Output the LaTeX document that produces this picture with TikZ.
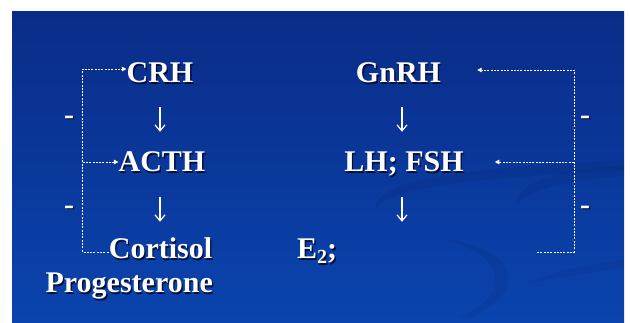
\documentclass[tikz,border=0pt]{standalone}
\usepackage{fontspec}
\setmainfont{Liberation Serif}
\usetikzlibrary{arrows.meta,calc}
\definecolor{bgtop}{RGB}{10,44,136}
\definecolor{bgbot}{RGB}{10,68,174}
\definecolor{shadecol}{RGB}{4,14,50}
\newcommand\dsh[1]{\makebox[0pt][l]{\kern1.3pt\raisebox{-1.3pt}{\textcolor{shadecol}{#1}}}#1}
\tikzset{
  txt/.style={inner sep=0pt, text height=20pt, text depth=0pt, text=white,
    font=\fontsize{30}{30}\selectfont\bfseries},
  minus/.style={inner sep=0pt, text=white, anchor=base,
    font=\fontsize{30}{30}\selectfont\bfseries},
  down/.style={white, line width=1.2pt, -{Straight Barb[length=6pt,width=10pt]}},
  fb/.style={white, line width=0.8pt, dash pattern=on 2pt off 1.3pt},
  fbarrow/.style={fb, -{Triangle[length=4.5pt,width=4.5pt]}},
  swoosh/.style={shadecol, opacity=0.08}
}
\begin{document}
\begin{tikzpicture}[x=1pt,y=-1pt]
\useasboundingbox (0,0) rectangle (630,323);
\fill[white] (0,0) rectangle (630,323);
\shade[top color=bgtop, bottom color=bgbot] (12,12) rectangle (624,323);
% subtle background swooshes
\fill[swoosh] (376,208) .. controls (372,180) and (470,168) .. (624,160)
  -- (624,170) .. controls (480,178) and (395,186) .. (376,208) -- cycle;
\fill[swoosh] (517,205) .. controls (515,180) and (570,168) .. (624,166)
  -- (624,176) .. controls (575,178) and (530,188) .. (517,205) -- cycle;
\fill[swoosh] (440,238) .. controls (520,250) and (530,290) .. (470,318)
  -- (460,318) .. controls (515,290) and (505,255) .. (440,238) -- cycle;
\fill[swoosh] (527,283) .. controls (560,270) and (600,262) .. (624,260)
  -- (624,268) .. controls (600,270) and (560,278) .. (527,283) -- cycle;
% texts
\node[txt, anchor=base] (crh) at (160,83) {\dsh{CRH}};
\node[txt, anchor=base] (acth) at (162,172) {\dsh{ACTH}};
\node[txt, anchor=base] (cort) at (160.5,259) {\dsh{Cortisol}};
\node[txt, anchor=base east] (prog) at (213,293) {\dsh{Progesterone}};
\node[txt, anchor=base] (gnrh) at (398.5,83) {\dsh{GnRH}};
\node[txt, anchor=base] (lhfsh) at (404,172) {\dsh{LH; FSH}};
\node[txt, anchor=base west] (e2) at (297,259) {\dsh{E\raisebox{-5pt}{\fontsize{20}{20}\selectfont 2};}};
\node[minus] (m1) at (69,124.5) {\dsh{-}};
\node[minus] (m2) at (69,214.5) {\dsh{-}};
\node[minus] (m3) at (585,124.5) {\dsh{-}};
\node[minus] (m4) at (585,214.5) {\dsh{-}};
% main arrows
\draw[down, shorten <=24pt, shorten >=20pt] (crh.south) -- (crh.south |- acth.north);
\draw[down, shorten <=25pt, shorten >=17pt] (crh.south |- acth.south) -- (crh.south |- cort.north);
\draw[down, shorten <=24pt, shorten >=20pt] ([xshift=-2pt]lhfsh.north |- gnrh.south) -- ([xshift=-2pt]lhfsh.north);
\draw[down, shorten <=25pt, shorten >=17pt] ([xshift=-2pt]lhfsh.south) -- ([xshift=-2pt]lhfsh.south |- e2.north);
% left feedback
\draw[fbarrow] ([yshift=-3pt]cort.west) -- ++(-26,0) coordinate (fbL) |- ([yshift=4pt]crh.west);
\draw[fbarrow] (fbL |- acth.west) -- (acth.west);
% right feedback
\coordinate (e2fb) at (537,252);
\draw[fbarrow] (e2fb) -- ++(37,0) coordinate (fbR) |- ([xshift=36pt,yshift=3pt]gnrh.east);
\draw[fbarrow] (fbR |- lhfsh.east) -- ([xshift=31pt]lhfsh.east);
\end{tikzpicture}
\end{document}
